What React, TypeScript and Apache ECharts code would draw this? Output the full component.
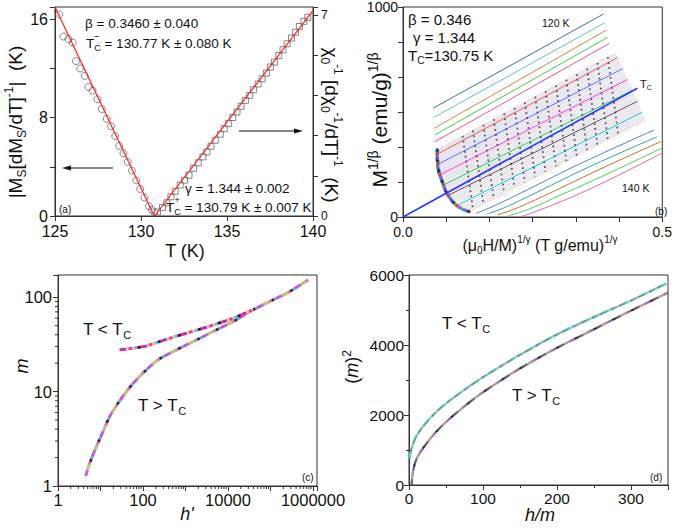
import React, { useEffect, useRef } from "react";
import * as echarts from "echarts";

const FONT = '"Liberation Sans", Arial, Helvetica, sans-serif';
const AX = "#333333";
const INK = "#111111";

// ---------------- panel (a)
const aCircT = [125.25, 125.49, 125.78, 126.03, 126.22, 126.46, 126.73, 126.94, 127.19, 127.47, 127.72, 128.01, 128.26, 128.5, 128.73, 128.98, 129.23, 129.47, 129.72, 129.95, 130.2, 130.46, 130.63, 130.77];
const aCircY = [16.4, 14.6, 14.4, 14.1, 12.6, 12.0, 11.4, 10.5, 10.2, 9.5, 8.7, 7.9, 7.3, 6.5, 5.7, 5.1, 4.4, 3.7, 2.9, 2.2, 1.5, 0.8, 0.5, 0.3];
const aSqT = [130.96, 131.25, 131.5, 131.74, 131.99, 132.28, 132.53, 132.79, 133.06, 133.33, 133.6, 133.83, 134.07, 134.32, 134.61, 134.84, 135.08, 135.33, 135.58, 135.82, 136.07, 136.32, 136.55, 136.81, 137.04, 137.29, 137.52, 137.76, 138.01, 138.26, 138.5, 138.75, 138.98, 139.21, 139.47, 139.7];
const aSqY = [0.14, 0.3, 0.46, 0.67, 0.86, 1.08, 1.25, 1.42, 1.66, 1.85, 2.06, 2.23, 2.43, 2.64, 2.85, 3.04, 3.22, 3.43, 3.62, 3.82, 4.03, 4.2, 4.4, 4.6, 4.78, 4.98, 5.19, 5.36, 5.59, 5.79, 6.0, 6.2, 6.4, 6.6, 6.78, 6.92];
const aFitLT = [125, 130.77];
const aFitLY = [17.0, 0];
const aFitRT = [130.79, 140];
const aFitRY = [0, 7.15];

// ---------------- panel (b)
const bTopLines = [
  { c: "#3a66c8", p: [[0.058, 518], [0.387, 967]] },
  { c: "#5cc6d2", p: [[0.06, 475], [0.389, 925]] },
  { c: "#d08a40", p: [[0.06, 422], [0.392, 890]] },
  { c: "#44d044", p: [[0.061, 390], [0.395, 856]] },
  { c: "#f050a0", p: [[0.062, 359], [0.398, 827]] },
];
const bBandStartX = [0.066, 0.066, 0.066, 0.066, 0.066, 0.066, 0.066, 0.066, 0.067, 0.067, 0.067, 0.067, 0.067, 0.068, 0.069, 0.069, 0.07, 0.071, 0.072, 0.073, 0.074, 0.075, 0.076, 0.077, 0.078, 0.079, 0.08, 0.081, 0.082, 0.084, 0.085, 0.087, 0.089, 0.091, 0.093, 0.095, 0.098, 0.101, 0.104, 0.108, 0.112, 0.117, 0.122, 0.127];
const bBandStartY = [320, 313, 306, 299, 292, 285, 278, 271, 264, 257, 250, 243, 236, 229, 222, 215, 208, 201, 194, 187, 180, 173, 166, 159, 152, 145, 138, 131, 124, 117, 110, 103, 96, 89, 82, 75, 68, 61, 54, 47, 41, 35, 30, 26];
const bBandEndX = [0.41, 0.411, 0.413, 0.414, 0.415, 0.417, 0.418, 0.419, 0.421, 0.422, 0.424, 0.425, 0.426, 0.428, 0.429, 0.43, 0.432, 0.433, 0.434, 0.436, 0.437, 0.438, 0.44, 0.441, 0.442, 0.444, 0.445, 0.446, 0.448, 0.449, 0.45, 0.452, 0.453, 0.454, 0.456, 0.457, 0.458, 0.46, 0.461, 0.462, 0.464, 0.465, 0.466, 0.468];
const bBandEndY = [781, 774, 766, 759, 751, 744, 736, 729, 722, 714, 707, 699, 692, 685, 677, 670, 662, 655, 647, 640, 633, 625, 618, 610, 603, 596, 588, 581, 573, 566, 559, 551, 544, 536, 529, 521, 514, 507, 499, 492, 484, 477, 469, 462];
const bHatchTopX = [0.115, 0.135, 0.155, 0.175, 0.195, 0.215, 0.235, 0.255, 0.275, 0.295, 0.315, 0.335, 0.355, 0.375, 0.395];
const bHatchTopY = [386, 412, 439, 466, 493, 520, 546, 573, 600, 627, 654, 680, 707, 734, 761];
const bHatchBotX = [0.135, 0.155, 0.175, 0.195, 0.215, 0.235, 0.255, 0.275, 0.295, 0.315, 0.335, 0.355, 0.375, 0.395, 0.415];
const bHatchBotY = [36, 62, 87, 113, 139, 164, 190, 215, 241, 266, 292, 318, 343, 369, 394];
const bBottomLines = [
  { c: "#4a7fd0", p: [[0.141, 18], [0.175, 52], [0.24, 130], [0.34, 252], [0.484, 414]] },
  { c: "#2aa0a8", p: [[0.162, 14], [0.195, 44], [0.26, 120], [0.36, 240], [0.49, 382]] },
  { c: "#c07020", p: [[0.182, 10], [0.215, 38], [0.28, 110], [0.38, 228], [0.497, 359]] },
  { c: "#50d050", p: [[0.202, 5], [0.235, 30], [0.3, 100], [0.4, 212], [0.5, 329]] },
  { c: "#f060a0", p: [[0.227, 2], [0.26, 30], [0.33, 100], [0.4, 180], [0.5, 305]] },
];
const bTcLineX = [0, 0.452];
const bTcLineY = [0, 613];

// ---------------- panel (c)
const cLowH = [4.48, 5.56, 7.98, 11.5, 16.4, 25.8, 40.6, 69.7, 120, 225, 508, 1047, 2154, 5309, 13120, 38700, 114500, 282600, 762000];
const cLowM = [1.28, 1.74, 2.61, 3.77, 5.43, 7.52, 10, 13.3, 17, 21.7, 26.5, 31.3, 36.7, 45, 55.2, 73.4, 93.7, 114.8, 152.6];
const cUpH = [28.3, 58, 120, 247, 508, 1047, 2154, 5309, 13120, 38700];
const cUpM = [27.7, 28.8, 30.5, 33.9, 37.7, 41.5, 45.8, 52.1, 59.9, 74];
const cMinorX = [2, 3, 4, 5, 6, 7, 8, 9, 20, 30, 40, 50, 60, 70, 80, 90, 200, 300, 400, 500, 600, 700, 800, 900, 2000, 3000, 4000, 5000, 6000, 7000, 8000, 9000, 20000, 30000, 40000, 50000, 60000, 70000, 80000, 90000, 200000, 300000, 400000, 500000, 600000, 700000, 800000, 900000];
const cMinorY = [2, 3, 4, 5, 6, 7, 8, 9, 20, 30, 40, 50, 60, 70, 80, 90];

// ---------------- panel (d)
const dUpX = [1, 3, 6, 10, 20, 35, 50, 75, 100, 150, 200, 250, 300, 350];
const dUpY = [760, 1000, 1200, 1400, 1700, 2050, 2330, 2720, 3080, 3720, 4300, 4800, 5270, 5780];
const dLowX = [3.5, 5, 8, 12, 20, 35, 50, 75, 100, 150, 200, 250, 300, 350];
const dLowY = [0, 330, 620, 820, 1080, 1480, 1800, 2250, 2650, 3330, 3920, 4450, 4980, 5495];

const zip = (xs: number[], ys: number[]) => xs.map((x, i) => [x, ys[i]]);

const bandPalette = ["#f5b8d5", "#a8e0ee", "#c4c4c4", "#f9c0c0", "#d0c4f2", "#b8e4b8", "#ecb4ec", "#b0dcf4"];
const bandStrong = ["#ff3030", "#3050ff", "#e020e0", "#20b020", "#333333", "#00a8c8"];
const bandDotColors = ["#2040ff", "#111111", "#20b040", "#ff2020", "#e020e0", "#00a0c0", "#8040c0"];

function rich(fs: number) {
  const base = { fontFamily: FONT, fill: INK };
  return {
    n: { ...base, fontSize: fs, lineHeight: Math.round(fs * 1.3) },
    i: { ...base, fontSize: fs, fontStyle: "italic", lineHeight: Math.round(fs * 1.3) },
    sb: { ...base, fontSize: Math.round(fs * 0.65), verticalAlign: "bottom", lineHeight: Math.round(fs * 0.7) },
    sp: { ...base, fontSize: Math.round(fs * 0.65), verticalAlign: "top", lineHeight: Math.round(fs * 0.7) },
  };
}

function rtext(text: string, x: number, y: number, fs: number, align = "left", rotation = 0) {
  return {
    type: "text",
    x,
    y,
    rotation,
    silent: true,
    z: 100,
    style: { text, rich: rich(fs), align, verticalAlign: "middle", fontFamily: FONT, fontSize: fs, fill: INK },
  };
}

function ptext(text: string, x: number, y: number, fs: number, align = "left") {
  return {
    type: "text",
    x,
    y,
    silent: true,
    z: 100,
    style: { text, align, verticalAlign: "middle", fontFamily: FONT, fontSize: fs, fill: INK },
  };
}

function mottled(data: number[][], xi: number, yi: number, width: number, colors: string[]) {
  const seg = 3;
  const out: any[] = [
    { type: "line", xAxisIndex: xi, yAxisIndex: yi, data, showSymbol: false, smooth: 0.3, silent: true, lineStyle: { color: colors[0], width } },
  ];
  colors.forEach((c, k) => {
    out.push({
      type: "line",
      xAxisIndex: xi,
      yAxisIndex: yi,
      data,
      showSymbol: false,
      smooth: 0.3,
      silent: true,
      lineStyle: { color: c, width, type: [seg, seg * (colors.length - 1)], dashOffset: k * seg },
    });
  });
  return out;
}

function minorTickSeries(data: number[][], xi: number, yi: number, vertical: boolean) {
  return {
    type: "custom",
    xAxisIndex: xi,
    yAxisIndex: yi,
    silent: true,
    clip: false,
    data,
    renderItem: (_p: any, api: any) => {
      const pt = api.coord([api.value(0), api.value(1)]);
      return vertical
        ? { type: "line", shape: { x1: pt[0], y1: pt[1], x2: pt[0], y2: pt[1] + 3 }, style: { stroke: AX, lineWidth: 1 } }
        : { type: "line", shape: { x1: pt[0] - 3, y1: pt[1], x2: pt[0], y2: pt[1] }, style: { stroke: AX, lineWidth: 1 } };
    },
  };
}

const near = (a: number, b: number) => Math.abs(a - b) < 1e-6;

function axisBase(fs: number, margin: number, lh?: number) {
  return {
    axisLine: { show: true, onZero: false, lineStyle: { color: AX, width: 1 } },
    axisTick: { show: true, length: 5, lineStyle: { color: AX } },
    splitLine: { show: false },
    axisLabel: { fontSize: fs, lineHeight: lh ?? fs, color: INK, fontFamily: FONT, margin, showMinLabel: true, showMaxLabel: true },
  };
}

function logLabel(every: number) {
  return (v: number) => {
    const l = Math.log10(v);
    const r = Math.round(l);
    if (Math.abs(l - r) > 1e-6) return "";
    if (r % every !== 0) return "";
    return String(Math.round(Math.pow(10, r)));
  };
}

export default function App() {
  const ref = useRef<HTMLDivElement>(null);
  useEffect(() => {
    if (!ref.current) return;
    const chart = echarts.init(ref.current, undefined, { renderer: "svg" });

    const series: any[] = [];
    // (a)
    series.push({ type: "line", xAxisIndex: 0, yAxisIndex: 0, data: zip(aFitLT, aFitLY), showSymbol: false, silent: true, lineStyle: { color: "#ff2020", width: 1.2 }, z: 3 });
    series.push({ type: "line", xAxisIndex: 0, yAxisIndex: 1, data: zip(aFitRT, aFitRY), showSymbol: false, silent: true, lineStyle: { color: "#ff2020", width: 1.2 }, z: 3 });
    series.push({ type: "scatter", xAxisIndex: 0, yAxisIndex: 0, data: zip(aCircT, aCircY), symbol: "circle", symbolSize: 7, silent: true, itemStyle: { color: "rgba(0,0,0,0)", borderColor: "#6a6a6a", borderWidth: 1 }, z: 2 });
    series.push({ type: "scatter", xAxisIndex: 0, yAxisIndex: 1, data: zip(aSqT, aSqY), symbol: "rect", symbolSize: 6, silent: true, itemStyle: { color: "rgba(0,0,0,0)", borderColor: "#6a6a6a", borderWidth: 1 }, z: 2 });

    // (b)
    bTopLines.forEach((l) => series.push({ type: "line", xAxisIndex: 1, yAxisIndex: 2, data: l.p, showSymbol: false, silent: true, lineStyle: { color: l.c, width: 1 } }));
    bBandStartX.forEach((sx, i) => {
      const strong = i % 7 === 3;
      series.push({
        type: "line",
        xAxisIndex: 1,
        yAxisIndex: 2,
        data: [[sx, bBandStartY[i]], [bBandEndX[i], bBandEndY[i]]],
        showSymbol: false,
        silent: true,
        lineStyle: { color: strong ? bandStrong[Math.floor(i / 7) % bandStrong.length] : bandPalette[i % bandPalette.length], width: strong ? 0.9 : 0.8 },
      });
    });
    bHatchTopX.forEach((tx, i) => {
      series.push({
        type: "line",
        xAxisIndex: 1,
        yAxisIndex: 2,
        data: [[tx, bHatchTopY[i]], [bHatchBotX[i], bHatchBotY[i]]],
        showSymbol: false,
        silent: true,
        lineStyle: { color: "#2a2a3a", width: 1.8, type: [1.8, 3.2], opacity: 0.75 },
      });
    });
    series.push({
      type: "scatter",
      xAxisIndex: 1,
      yAxisIndex: 2,
      data: zip(bBandStartX, bBandStartY),
      symbol: "circle",
      symbolSize: 3.5,
      silent: true,
      itemStyle: { color: (p: any) => bandDotColors[p.dataIndex % bandDotColors.length] },
      z: 4,
    });
    bBottomLines.forEach((l) => series.push({ type: "line", xAxisIndex: 1, yAxisIndex: 2, data: l.p, smooth: 0.4, showSymbol: false, silent: true, lineStyle: { color: l.c, width: 1 } }));
    series.push({ type: "line", xAxisIndex: 1, yAxisIndex: 2, data: zip(bTcLineX, bTcLineY), showSymbol: false, silent: true, lineStyle: { color: "#1f3cff", width: 1.6 }, z: 5 });

    // (c)
    series.push(...mottled(zip(cLowH, cLowM), 2, 3, 2.6, ["#e040e0", "#40c0f0", "#303030", "#f08080", "#90e090", "#e8c040", "#9080e0"]));
    series.push(...mottled(zip(cUpH, cUpM), 2, 3, 2.6, ["#ff20a0", "#202020", "#40d0f0", "#d0d0d0", "#ff4040", "#ffb0e0", "#8040c0"]));
    series.push(minorTickSeries(cMinorX.map((v) => [v, 1]), 2, 3, true));
    series.push(minorTickSeries(cMinorY.map((v) => [1, v]), 2, 3, false));

    // (d)
    series.push(...mottled(zip(dUpX, dUpY), 3, 4, 2, ["#40c8d8", "#60b060", "#909090", "#80d0e0", "#a0a0a0", "#50a0a0", "#b0d0b0"]));
    series.push(...mottled(zip(dLowX, dLowY), 3, 4, 2, ["#606060", "#303030", "#a060c0", "#909090", "#e090a0", "#b0b0b0", "#707070"]));

    const graphic: any[] = [
      // (a)
      rtext("{n|β = 0.3460 ± 0.040}", 85, 23, 13.5),
      rtext("{n|T}{sb|C}{n| = 130.77 K ± 0.080 K}", 86, 43, 13.5),
      ptext("−", 97, 36, 10, "center"),
      rtext("{n|γ = 1.344 ± 0.002}", 185, 188, 13.5),
      rtext("{n|T}{sb|C}{n| = 130.79 K ± 0.007 K}", 166, 207, 13.5),
      ptext("+", 177, 200, 9, "center"),
      ptext("(a)", 59, 209, 10),
      rtext("{n||M}{sb|S}{n|[dM}{sb|S}{n|/dT]}{sp|-1}{n||  (K)}", 15, 122, 19, "center", Math.PI / 2),
      rtext("{n|χ}{sb|0}{sp|-1}{n| [dχ}{sb|0}{sp|-1}{n|/dT]}{sp|-1}{n|  (K)}", 331, 125, 19, "center", -Math.PI / 2),
      ptext("T (K)", 185, 251, 18, "center"),
      { type: "line", silent: true, shape: { x1: 113, y1: 168, x2: 68, y2: 168 }, style: { stroke: INK, lineWidth: 1 } },
      { type: "polygon", silent: true, shape: { points: [[62, 168], [71, 165.5], [71, 170.5]] }, style: { fill: INK } },
      { type: "line", silent: true, shape: { x1: 239, y1: 131, x2: 297, y2: 131 }, style: { stroke: INK, lineWidth: 1 } },
      { type: "polygon", silent: true, shape: { points: [[303, 131], [294, 128.5], [294, 133.5]] }, style: { fill: INK } },
      // (b)
      rtext("{n|β = 0.346}", 408, 19, 15),
      rtext("{n|γ = 1.344}", 413, 37, 15),
      rtext("{n|T}{sb|C}{n|=130.75 K}", 408, 55, 15),
      ptext("120 K", 542, 23, 10.5),
      ptext("140 K", 622, 188, 10.5),
      rtext("{n|T}{sb|C}", 640, 84, 11),
      ptext("(b)", 655, 211, 10),
      rtext("{n|M}{sp|1/β}{n| (emu/g)}{sp|1/β}", 379, 120, 21, "center", Math.PI / 2),
      rtext("{n|(μ}{sb|0}{n|H/M)}{sp|1/γ}{n| (T g/emu)}{sp|1/γ}", 540, 245, 16, "center"),
      // (c)
      rtext("{n|T < T}{sb|C}", 83, 329, 17),
      rtext("{n|T > T}{sb|C}", 138, 405, 17),
      rtext("{i|m}", 22, 366, 18, "center", Math.PI / 2),
      rtext("{i|h'}", 187, 514, 18, "center"),
      ptext("(c)", 302, 477, 10),
      // (d)
      rtext("{n|T < T}{sb|C}", 442, 323, 17),
      rtext("{n|T > T}{sb|C}", 512, 395, 17),
      rtext("{n|(}{i|m}{n|)}{sp|2}", 352, 367, 18, "center", Math.PI / 2),
      rtext("{i|h/m}", 540, 515, 18, "center"),
      ptext("(d)", 650, 477, 10),
    ];

    const option: any = {
      animation: false,
      backgroundColor: "#ffffff",
      textStyle: { fontFamily: FONT },
      grid: [
        { left: 55, top: 7, width: 258, height: 209, show: true, borderColor: AX, borderWidth: 1 },
        { left: 403, top: 7, width: 262, height: 210, show: true, borderColor: AX, borderWidth: 1 },
        { left: 58, top: 275, width: 259, height: 211, show: true, borderColor: AX, borderWidth: 1 },
        { left: 409, top: 275, width: 259, height: 210, show: true, borderColor: AX, borderWidth: 1 },
      ],
      xAxis: [
        { ...axisBase(16, 7.5), gridIndex: 0, type: "value", min: 125, max: 140, interval: 5 },
        {
          ...axisBase(14, 8),
          gridIndex: 1,
          type: "value",
          min: 0,
          max: 0.5,
          interval: 0.5 / 6,
          axisLabel: { ...axisBase(14, 8).axisLabel, formatter: (v: number) => (near(v, 0) ? "0.0" : near(v, 0.5) ? "0.5" : "") },
        },
        {
          ...axisBase(16.5, 6),
          gridIndex: 2,
          type: "log",
          logBase: 10,
          min: 1,
          max: 1.24e6,
          axisLabel: { ...axisBase(16.5, 6).axisLabel, formatter: logLabel(2) },
        },
        {
          ...axisBase(15.5, 6),
          gridIndex: 3,
          type: "value",
          min: 0,
          max: 350,
          interval: 100,
          minorTick: { show: true, splitNumber: 2, length: 3, lineStyle: { color: AX } },
          axisLabel: { ...axisBase(15.5, 6).axisLabel, formatter: (v: number) => (Math.abs(v % 100) < 1e-6 ? String(v) : "") },
        },
      ],
      yAxis: [
        {
          ...axisBase(16, 7, 13),
          gridIndex: 0,
          type: "value",
          min: 0,
          max: 17,
          interval: 4,
          axisLabel: { ...axisBase(16, 7, 13).axisLabel, formatter: (v: number) => (Math.abs(v % 8) < 1e-6 ? String(v) : "") },
        },
        {
          ...axisBase(12, 8),
          gridIndex: 0,
          type: "value",
          position: "right",
          min: 0,
          max: 7.28,
          interval: 1.4,
          axisLabel: { ...axisBase(12, 8).axisLabel, formatter: (v: number) => (near(v, 0) ? "0" : near(v, 7) ? "7" : "") },
        },
        {
          ...axisBase(14, 5, 12),
          gridIndex: 1,
          type: "value",
          min: 0,
          max: 1000,
          interval: 1000 / 6,
          axisLabel: { ...axisBase(14, 5, 12).axisLabel, formatter: (v: number) => (near(v, 0) ? "0" : Math.abs(v - 1000) < 1e-3 ? "1000" : "") },
        },
        {
          ...axisBase(16.5, 6),
          gridIndex: 2,
          type: "log",
          logBase: 10,
          min: 1,
          max: 172,
          axisLabel: { ...axisBase(16.5, 6).axisLabel, formatter: logLabel(1) },
        },
        {
          ...axisBase(15.5, 5),
          gridIndex: 3,
          type: "value",
          min: 0,
          max: 6000,
          interval: 2000,
          minorTick: { show: true, splitNumber: 2, length: 3, lineStyle: { color: AX } },
          axisLabel: { ...axisBase(15.5, 5).axisLabel, formatter: (v: number) => String(Math.round(v)) },
        },
      ],
      series,
      graphic,
    };
    chart.setOption(option);
    return () => chart.dispose();
  }, []);
  return <div ref={ref} style={{ position: "absolute", left: 0, top: 0, width: 675, height: 529, background: "#fff" }} />;
}
